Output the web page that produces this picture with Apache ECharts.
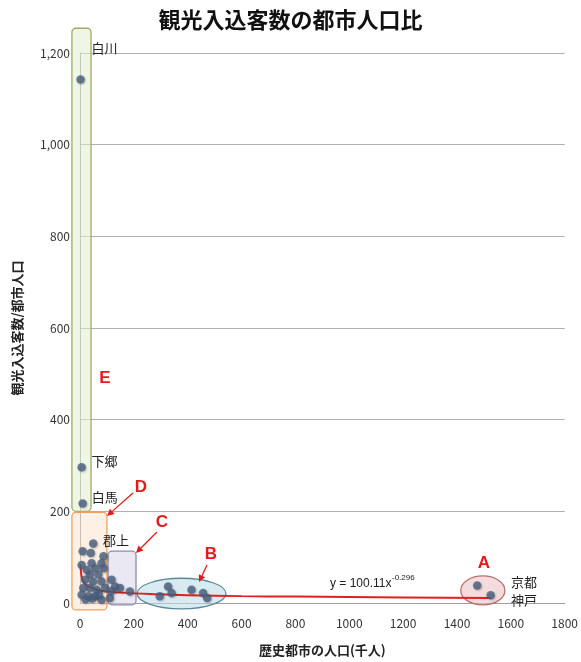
<!DOCTYPE html>
<html>
<head>
<meta charset="utf-8">
<script src="https://cdn.jsdelivr.net/npm/echarts@6/dist/echarts.min.js"></script>
<style>
  html, body { margin: 0; padding: 0; background: #fff; }
  #chart { width: 581px; height: 662px; }
</style>
</head>
<body>
<div id="chart"></div>
<script>
// 歴史都市: 人口(千人) と 観光入込客数/都市人口
const namedCities = ['白川', '下郷', '白馬', '京都', '神戸'];
const namedPop    = [2, 6, 10, 1475, 1525];
const namedRatio  = [1142, 296, 217, 38, 17];

// その他の都市
const otherPop = [
  49, 10, 40, 87, 6, 43, 80, 25, 56, 87, 37, 68, 19, 49, 80, 12, 37, 62, 93, 6, 31, 56, 80, 20, 45, 70,
  111, 117, 130, 148, 117, 185,
  296, 327, 340, 414, 457, 472
];
const otherRatio = [
  130, 113, 109, 102, 83, 87, 87, 72, 76, 76, 62, 62, 51, 47, 47, 33, 33, 29, 33, 18, 15, 15, 7, 8, 10, 20,
  11, 51, 36, 33, 26, 25,
  15, 36, 22, 29, 22, 11
];

// 累乗近似曲線 (y = 100.11x^-0.296) の読み取り値
const trendPop   = [2, 5, 10, 20, 40, 70, 100, 150, 200, 300, 400, 600, 800, 1000, 1200, 1525];
const trendRatio = [82, 62, 50, 41, 34, 28, 25, 23, 21, 19, 17, 15, 14, 13, 12, 11];

const xTicks = { min: 0, max: 1800, step: 200 };
const yTicks = { min: 0, max: 1200, step: 200 };

const CJK = '"Noto Sans CJK JP", "Noto Sans", sans-serif';

const points = namedPop.map((p, i) => [p, namedRatio[i]])
  .concat(otherPop.map((p, i) => [p, otherRatio[i]]));
const trend = trendPop.map((p, i) => [p, trendRatio[i]]);

const chart = echarts.init(document.getElementById('chart'), null, { renderer: 'canvas' });

chart.setOption({
  backgroundColor: '#ffffff',
  animation: false,
  title: {
    text: '観光入込客数の都市人口比',
    left: 'center',
    top: 4,
    textStyle: { fontFamily: CJK, fontSize: 22, fontWeight: 'bold', color: '#111' }
  },
  grid: { left: 80, right: 16, top: 53, bottom: 57, containLabel: false },
  xAxis: {
    type: 'value',
    min: xTicks.min, max: xTicks.max, interval: xTicks.step,
    name: '歴史都市の人口(千人)',
    nameLocation: 'middle',
    nameGap: 41,
    nameTextStyle: { fontFamily: CJK, fontSize: 13, fontWeight: 'bold', color: '#222' },
    axisLine: { lineStyle: { color: '#a0a0a0' } },
    axisTick: { show: false },
    axisLabel: { fontFamily: CJK, fontSize: 12, color: '#333', margin: 14, formatter: v => String(v) },
    splitLine: { show: false }
  },
  yAxis: {
    type: 'value',
    min: yTicks.min, max: yTicks.max, interval: yTicks.step,
    name: '観光入込客数/都市人口',
    nameLocation: 'middle',
    nameRotate: 90,
    nameGap: 56,
    nameTextStyle: { fontFamily: CJK, fontSize: 13, fontWeight: 'bold', color: '#222' },
    axisLine: { show: true, lineStyle: { color: '#a0a0a0' } },
    axisTick: { show: false },
    axisLabel: {
      fontFamily: CJK, fontSize: 12, color: '#333', margin: 10,
      formatter: v => v.toLocaleString('en-US')
    },
    splitLine: { lineStyle: { color: '#b0b0b0' } }
  },
  series: [
    {
      type: 'line',
      data: trend,
      smooth: true,
      symbol: 'none',
      lineStyle: { color: '#e02020', width: 2 },
      z: 3
    },
    {
      type: 'scatter',
      data: points,
      symbolSize: 8.5,
      itemStyle: {
        color: '#4a6080',
        shadowColor: 'rgba(0,0,0,0.3)',
        shadowBlur: 2,
        shadowOffsetX: 1,
        shadowOffsetY: 1
      },
      z: 4
    }
  ]
});

// 注記 (グループ枠、記号、矢印、都市名)
function px(x, y) { return chart.convertToPixel({ gridIndex: 0 }, [x, y]); }

function box(x0, y0, x1, y1, fill, stroke, r) {
  const a = px(x0, y0), b = px(x1, y1);
  return {
    type: 'rect', z: 1,
    shape: { x: a[0], y: b[1], width: b[0] - a[0], height: a[1] - b[1], r: r },
    style: { fill: fill, stroke: stroke, lineWidth: 1.3 }
  };
}
function ellipse(x0, y0, x1, y1, fill, stroke) {
  const a = px(x0, y0), b = px(x1, y1);
  return {
    type: 'ellipse', z: 1,
    shape: { cx: (a[0] + b[0]) / 2, cy: (a[1] + b[1]) / 2, rx: (b[0] - a[0]) / 2, ry: (a[1] - b[1]) / 2 },
    style: { fill: fill, stroke: stroke, lineWidth: 1.3 }
  };
}
function letter(t, x, y) {
  return {
    type: 'text', z: 10, x: x, y: y,
    style: { text: t, fill: '#e41a1a', font: 'bold 17px "Liberation Sans", Arial, sans-serif', align: 'center', verticalAlign: 'middle' }
  };
}
function arrow(x1, y1, x2, y2) {
  const ang = Math.atan2(y2 - y1, x2 - x1), L = 7, W = 3.5;
  const bx = x2 - L * Math.cos(ang), by = y2 - L * Math.sin(ang);
  const nx = -Math.sin(ang), ny = Math.cos(ang);
  return [
    { type: 'line', z: 10, shape: { x1: x1, y1: y1, x2: bx, y2: by }, style: { stroke: '#e41a1a', lineWidth: 1.3 } },
    { type: 'polygon', z: 10, shape: { points: [[x2, y2], [bx + nx * W, by + ny * W], [bx - nx * W, by - ny * W]] }, style: { fill: '#e41a1a' } }
  ];
}
function cityLabel(t, x, y) {
  return {
    type: 'text', z: 10, x: x, y: y,
    style: { text: t, fill: '#222', font: '13px ' + CJK, align: 'left', verticalAlign: 'middle' }
  };
}

function drawNotes() {
  const g = [];
  g.push(box(-30, 1254, 41, 200, 'rgba(228,238,210,0.55)', '#9aae64', 4));
  g.push(box(-30, 198, 100, -15, 'rgba(252,222,196,0.45)', '#f0a060', 4));
  g.push(box(104, 113, 208, -4, 'rgba(214,210,232,0.5)', '#8e8aa8', 4));
  g.push(ellipse(212, 54, 542, -13, 'rgba(190,222,232,0.6)', '#5a8a98'));
  g.push(ellipse(1414, 59, 1578, -4, 'rgba(236,196,196,0.6)', '#b87070'));

  g.push(letter('E', 105, 378));
  g.push(letter('D', 141, 487));
  g.push(letter('C', 162, 522));
  g.push(letter('B', 211, 554));
  g.push(letter('A', 484, 563));

  arrow(133, 493, 107, 516).forEach(e => g.push(e));
  arrow(157, 532, 136, 553).forEach(e => g.push(e));
  arrow(207, 565, 199, 582).forEach(e => g.push(e));

  // 都市名
  const p0 = px(namedPop[0], namedRatio[0]);
  g.push(cityLabel(namedCities[0], p0[0] + 11, p0[1] - 32));
  const p1 = px(namedPop[1], namedRatio[1]);
  g.push(cityLabel(namedCities[1], p1[0] + 10, p1[1] - 6));
  const p2 = px(namedPop[2], namedRatio[2]);
  g.push(cityLabel(namedCities[2], p2[0] + 9, p2[1] - 6));
  g.push(cityLabel('郡上', 103, 540));
  const pA = px(1578, 0);
  g.push(cityLabel(namedCities[3], pA[0] + 6, 582));
  g.push(cityLabel(namedCities[4], pA[0] + 6, 600));

  // 近似式
  g.push({
    type: 'text', z: 10, x: 330, y: 584,
    style: { text: 'y = 100.11x', fill: '#222', font: '12px "Liberation Sans", Arial, sans-serif', verticalAlign: 'middle' }
  });
  g.push({
    type: 'text', z: 10, x: 392, y: 578,
    style: { text: '-0.296', fill: '#222', font: '8px "Liberation Sans", Arial, sans-serif', verticalAlign: 'middle' }
  });

  chart.setOption({ graphic: g });
}
drawNotes();
</script>
</body>
</html>
